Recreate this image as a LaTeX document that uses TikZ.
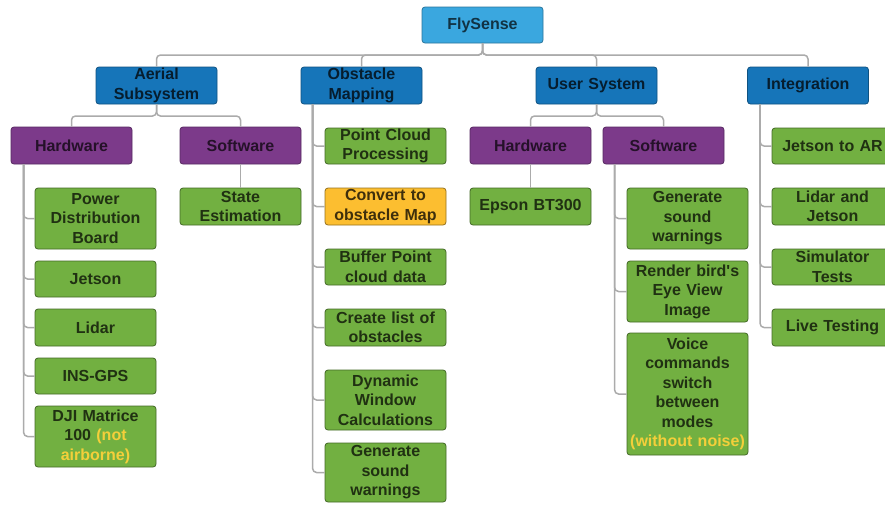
\documentclass[tikz,border=0pt]{standalone}
\usepackage{fontspec}
\setmainfont{Liberation Sans}
\usetikzlibrary{calc}
\definecolor{cfly}{HTML}{3AA7DF}
\definecolor{cblue}{HTML}{1675B9}
\definecolor{cpurple}{HTML}{7C3A8A}
\definecolor{cgreen}{HTML}{72B041}
\definecolor{corange}{HTML}{FCBE30}
\definecolor{cyell}{HTML}{F4CF3A}
\definecolor{cline}{HTML}{ABABAB}
\tikzset{
  box/.style={rounded corners=3pt, line width=0.8pt, minimum width=121pt, text width=119pt,
    align=center, inner sep=0pt, font=\fontsize{16}{19.5}\selectfont\bfseries},
  flybox/.style={box, fill=cfly, draw=cfly!70!black, text=cfly!30!black},
  bluebox/.style={box, fill=cblue, draw=cblue!70!black, text=cblue!25!black},
  purplebox/.style={box, fill=cpurple, draw=cpurple!70!black, text=cpurple!30!black},
  greenbox/.style={box, fill=cgreen, draw=cgreen!60!black, text=cgreen!28!black},
  orangebox/.style={box, fill=corange, draw=corange!60!black, text=corange!25!black},
  conn/.style={draw=cline, line width=1.5pt, rounded corners=4pt},
}
\begin{document}
\begin{tikzpicture}[x=1pt, y=-1pt]
\useasboundingbox[fill=white] (0,0) rectangle (885,504);
% bus coordinates
\coordinate (bus1) at (0,55);
\coordinate (bus2) at (0,116);
% root and level 1
\node[flybox, minimum height=36pt] (fly) at (482.5,25) {FlySense};
\node[bluebox, minimum height=37pt] (aer) at (156.5,85.5) {Aerial\\Subsystem};
\node[bluebox, minimum height=37pt] (obs) at (361.5,85.5) {Obstacle\\Mapping};
\node[bluebox, minimum height=37pt] (usr) at (596.5,85.5) {User System};
\node[bluebox, minimum height=37pt] (int) at (808,85.5) {Integration};
% level 2
\node[purplebox, minimum height=37pt] (ahw) at (71.5,145.5) {Hardware};
\node[purplebox, minimum height=37pt] (asw) at (240.5,145.5) {Software};
\node[purplebox, minimum height=37pt] (uhw) at (530.5,145.5) {Hardware};
\node[purplebox, minimum height=37pt] (usw) at (663.5,145.5) {Software};
% aerial hardware
\node[greenbox, minimum height=61pt] (pdb) at (95.5,218.5) {Power\\Distribution\\Board};
\node[greenbox, minimum height=36pt] (jet) at (95.5,279) {Jetson};
\node[greenbox, minimum height=37pt] (lid) at (95.5,327.5) {Lidar};
\node[greenbox, minimum height=36pt] (ins) at (95.5,376) {INS-GPS};
\node[greenbox, minimum height=61pt] (dji) at (95.5,436.5) {DJI Matrice\\100 \textcolor{cyell}{(not}\\\textcolor{cyell}{airborne)}};
% aerial software
\node[greenbox, minimum height=37pt] (ste) at (240.5,206.5) {State\\Estimation};
% obstacle mapping
\node[greenbox, minimum height=36pt] (pcp) at (385.5,146) {Point Cloud\\Processing};
\node[orangebox, minimum height=37pt] (cvt) at (385.5,206.5) {Convert to\\obstacle Map};
\node[greenbox, minimum height=36pt] (buf) at (385.5,267) {Buffer Point\\cloud data};
\node[greenbox, minimum height=37pt] (cre) at (385.5,327.5) {Create list of\\obstacles};
\node[greenbox, minimum height=60pt] (dyn) at (385.5,400) {Dynamic\\Window\\Calculations};
\node[greenbox, minimum height=59pt] (gso) at (385.5,472.5) {Generate\\sound\\warnings};
% user hardware
\node[greenbox, minimum height=37pt] (eps) at (530.5,206.5) {Epson BT300};
% user software
\node[greenbox, minimum height=61pt] (gsu) at (687.5,218.5) {Generate\\sound\\warnings};
\node[greenbox, minimum height=61pt] (ren) at (687.5,291.5) {Render bird\textquotesingle s\\Eye View\\Image};
\node[greenbox, minimum height=122pt] (voi) at (687.5,394) {Voice\\commands\\switch\\between\\modes\\\textcolor{cyell}{(without noise)}};
% integration
\node[greenbox, minimum height=36pt] (jar) at (832.5,146) {Jetson to AR};
\node[greenbox, minimum height=37pt] (laj) at (832.5,206.5) {Lidar and\\Jetson};
\node[greenbox, minimum height=36pt] (sim) at (832.5,267) {Simulator\\Tests};
\node[greenbox, minimum height=37pt] (liv) at (832.5,327.5) {Live Testing};
% connectors
\foreach \c in {aer,obs,usr,int}
  \draw[conn] (fly.south) -- (fly.south |- bus1) -| (\c.north);
\foreach \c in {ahw,asw}
  \draw[conn] (aer.south) -- (aer.south |- bus2) -| (\c.north);
\foreach \c in {uhw,usw}
  \draw[conn] (usr.south) -- (usr.south |- bus2) -| (\c.north);
\draw[conn] (asw.south) -- (ste.north);
\draw[conn] (uhw.south) -- (eps.north);
\foreach \c in {pdb,jet,lid,ins,dji}
  \draw[conn] ([xshift=13pt]ahw.south west) |- (\c.west);
\foreach \c in {pcp,cvt,buf,cre,dyn,gso}
  \draw[conn] ([xshift=12pt]obs.south west) |- (\c.west);
\foreach \c in {gsu,ren,voi}
  \draw[conn] ([xshift=12pt]usw.south west) |- (\c.west);
\foreach \c in {jar,laj,sim,liv}
  \draw[conn] ([xshift=13pt]int.south west) |- (\c.west);
\end{tikzpicture}
\end{document}
